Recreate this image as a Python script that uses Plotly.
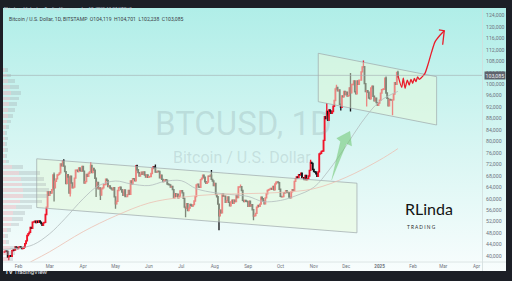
import base64
import pandas as pd
import plotly.graph_objects as go

W, H = 512, 281

# ---------------- BTCUSD daily candles (BITSTAMP) ----------------
first_date = "2024-01-19"
first_open = 41280
close_2024_01 = [41620, 41670, 41580, 39530, 39860, 40080, 39930, 41820, 42120, 42030, 43300, 42940, 42580]
close_2024_02 = [43080, 43190, 42990, 42580, 42660, 43090, 44340, 45290, 47150, 47770, 48290, 49960, 49700, 51810,
                 51940, 52130, 51660, 52130, 51780, 52270, 51840, 51300, 50730, 51570, 51720, 54480, 57050, 62470, 61170]
close_2024_03 = [62430, 61990, 63130, 68300, 63790, 66110, 66940, 68300, 68500, 69020, 72120, 71480, 73080, 71400,
                 69460, 65310, 68390, 67610, 61950, 67870, 65490, 63780, 64060, 67220, 69940, 69960, 69460, 70760,
                 69910, 69670, 71300]
close_2024_04 = [69650, 65470, 65970, 68510, 67840, 68900, 69360, 71630, 69150, 70620, 70010, 67160, 63920, 65700,
                 63430, 63810, 61280, 63470, 63820, 64940, 64950, 66840, 66410, 64280, 64500, 63770, 63460, 63120,
                 63840, 60640]
close_2024_05 = [58250, 59120, 62890, 63890, 64030, 63160, 62330, 61190, 63070, 60790, 60790, 61450, 62900, 61550,
                 66250, 65230, 67040, 66930, 66270, 71450, 70140, 69120, 67930, 68530, 69290, 68510, 69390, 68300,
                 67580, 68360, 67510]
close_2024_06 = [67740, 67760, 68800, 70570, 71110, 70790, 69340, 69310, 69640, 69510, 67310, 68240, 66760, 66010,
                 66190, 66640, 66490, 65160, 64960, 64830, 64100, 64270, 63190, 60280, 61810, 60860, 61610, 60320,
                 60900, 62690]
close_2024_07 = [62850, 62030, 60150, 57050, 56660, 58250, 55870, 56710, 57990, 57700, 57420, 57940, 59210, 60790,
                 64840, 65100, 64110, 63970, 66700, 67150, 68190, 67560, 65930, 65370, 65790, 67910, 67890, 68250,
                 66790, 66190, 64620]
close_2024_08 = [65360, 61480, 60700, 58120, 54030, 56030, 55120, 61710, 60880, 60940, 58710, 59350, 60610, 58740,
                 57560, 58880, 59490, 58440, 59490, 59010, 61160, 60380, 64090, 64160, 64220, 62880, 59420, 59030,
                 59370, 59120, 58970]
close_2024_09 = [57320, 59130, 57480, 57970, 56160, 53950, 54160, 54870, 57040, 57640, 57340, 58130, 60540, 60000,
                 59180, 58200, 60310, 61760, 62940, 63190, 63350, 63580, 63330, 64300, 63140, 65180, 65790, 65880,
                 65600, 63330]
close_2024_10 = [60810, 60650, 60750, 62090, 62070, 62820, 62240, 62130, 60590, 60280, 62450, 63190, 62850, 66050,
                 67040, 67610, 67400, 68390, 68360, 68960, 67370, 67380, 66680, 68160, 66640, 67010, 67940, 69910,
                 72720, 72340, 70220]
close_2024_11 = [69480, 69330, 68740, 67800, 69360, 75640, 75900, 76540, 76670, 80370, 88700, 87960, 90520, 87360,
                 91060, 90580, 89830, 90490, 92310, 94310, 98320, 98910, 97700, 98010, 93010, 91950, 95900, 95640,
                 97450, 96420]
close_2024_12 = [97200, 95840, 96000, 98740, 96970, 99900, 99920, 101170, 97380, 96620, 101130, 100000, 101420,
                 101420, 104300, 106030, 106140, 100200, 97460, 97780, 97220, 95190, 94880, 98690, 99320, 95790,
                 94170, 95160, 93570, 92640, 93390]
close_2025_01 = [94400, 96890, 98110, 98240, 98330, 102080, 96930, 95040, 92480, 94700, 94550, 94500, 94510, 96530,
                 100500, 99960, 104119, 103085]

# notable wick extremes
wick_high = {"2024-03-05": 69200, "2024-03-14": 73800, "2024-04-08": 72700, "2024-05-21": 71900,
             "2024-06-07": 71950, "2024-07-29": 70000, "2024-08-25": 65000, "2024-10-29": 73600,
             "2024-11-13": 93400, "2024-11-22": 99800, "2024-12-05": 103900, "2024-12-17": 108300,
             "2025-01-07": 102700, "2025-01-18": 104701}
wick_low = {"2024-01-23": 38500, "2024-03-05": 59000, "2024-03-20": 60800, "2024-04-13": 60600,
            "2024-04-17": 59600, "2024-05-01": 56500, "2024-07-05": 53500, "2024-08-05": 49000,
            "2024-09-06": 52500, "2024-11-26": 90800, "2024-12-05": 90500, "2024-12-20": 92200,
            "2025-01-13": 89200, "2025-01-18": 102238}

closes = (close_2024_01 + close_2024_02 + close_2024_03 + close_2024_04 + close_2024_05 + close_2024_06
          + close_2024_07 + close_2024_08 + close_2024_09 + close_2024_10 + close_2024_11 + close_2024_12
          + close_2025_01)
dates = pd.date_range(first_date, periods=len(closes), freq="D")
opens = [first_open] + closes[:-1]
keys = [d.strftime("%Y-%m-%d") for d in dates]
highs = [max(o, c, wick_high.get(k, 0)) for o, c, k in zip(opens, closes, keys)]
lows = [min(o, c, wick_low.get(k, 10 ** 9)) for o, c, k in zip(opens, closes, keys)]

# ---------------- moving averages ----------------
ma_fast_dates = ["2024-01-17", "2024-02-01", "2024-02-15", "2024-03-01", "2024-03-15", "2024-04-01",
                 "2024-04-15", "2024-05-01", "2024-05-15", "2024-06-01", "2024-06-15", "2024-07-01",
                 "2024-07-15", "2024-08-01", "2024-08-15", "2024-09-01", "2024-09-15", "2024-10-01",
                 "2024-10-15", "2024-11-01", "2024-11-15", "2024-12-01", "2024-12-15", "2025-01-01",
                 "2025-01-18"]
ma_fast_vals = [42300, 42700, 44000, 47800, 53000, 60000, 64500, 66200, 65200, 64600, 66000, 66300,
                63500, 62100, 61500, 60800, 59000, 59400, 61000, 64000, 70000, 78500, 86500, 94000, 97500]
ma_slow_dates = ["2024-02-12", "2024-03-01", "2024-04-01", "2024-05-01", "2024-06-01", "2024-07-01",
                 "2024-08-01", "2024-09-01", "2024-10-01", "2024-11-01", "2024-12-01", "2025-01-01",
                 "2025-01-18"]
ma_slow_vals = [37900, 41500, 48500, 54000, 58500, 60500, 61500, 61800, 62200, 63500, 67500, 73500, 77500]

# ---------------- volume profile (visible range) ----------------
vp_prices = list(range(39000, 107000, 2000))
vp_up = [5, 6, 7, 3, 2, 4, 8, 9, 10, 13, 17, 20, 20, 19, 18, 16, 9, 3, 2, 2, 2, 2, 2, 3, 4, 5, 5, 6, 7, 8, 7, 5, 4, 2]
vp_down = [5, 6, 7, 3, 3, 4, 8, 11, 12, 15, 21, 24, 25, 23, 22, 20, 11, 3, 2, 3, 2, 3, 2, 3, 4, 5, 7, 8, 9, 10, 9, 7, 4, 3]

# ---------------- drawings ----------------
low_channel_x = ["2024-02-17 22:00", "2024-12-11", "2024-12-11", "2024-02-17 22:00", "2024-02-17 22:00"]
low_channel_y = [73950, 65430, 48100, 56940, 73950]
up_channel_x = ["2024-11-05 02:00", "2025-02-22 22:00", "2025-02-22 22:00", "2024-11-05 02:00", "2024-11-05 02:00"]
up_channel_y = [110800, 102630, 85760, 93900, 110800]

arrow_x = ["2024-11-17 12:00", "2024-11-25 17:00", "2024-11-22 05:00", "2024-12-04 12:00", "2024-12-06 02:00",
           "2024-12-01 07:00", "2024-11-17 12:00"]
arrow_y = [66550, 79990, 81110, 83560, 78420, 79300, 66550]

path_x = ["2025-01-18", "2025-01-21 12:00", "2025-01-23", "2025-01-24 14:00", "2025-01-26 17:00",
          "2025-01-28 12:00", "2025-01-30 02:00", "2025-01-31 17:00", "2025-02-02 05:00", "2025-02-03 17:00",
          "2025-02-05 07:00", "2025-02-06 19:00", "2025-02-09", "2025-02-12 02:00", "2025-02-15 05:00",
          "2025-02-18 07:00", "2025-02-21 10:00", "2025-02-26 05:00", "2025-03-02"]
path_y = [103085, 98900, 102100, 98600, 101400, 99700, 101700, 100300, 102000, 100900, 102600,
          101700, 102400, 103800, 107300, 111300, 114800, 117200, 118700]
head_x = ["2025-02-25", "2025-03-02", "2025-02-28 12:00"]
head_y = [119000, 118700, 113800]

# ---------------- axes mapping ----------------
x_range = ["2024-01-17 15:00", "2025-04-06"]
y_range = [37904, 126622]
month_ticks = ["2024-02-01", "2024-03-01", "2024-04-01", "2024-05-01", "2024-06-01", "2024-07-01",
               "2024-08-01", "2024-09-01", "2024-10-01", "2024-11-01", "2024-12-01", "2025-01-01",
               "2025-02-01", "2025-03-01", "2025-04-01"]
month_text = ["Feb", "Mar", "Apr", "May", "Jun", "Jul", "Aug", "Sep", "Oct", "Nov", "Dec", "<b>2025</b>",
              "Feb", "Mar", "Apr"]
price_ticks = list(range(40000, 124001, 4000))

X0, X1 = 3, 482        # plot area in pixels
Y0, Y1 = 8, 262


def px(x):
    return x / W


def py(y):
    return 1 - y / H


fig = go.Figure()

channel_fill = "rgba(232,250,218,0.5)"
channel_line = dict(color="#9ea7ab", width=0.7)
fig.add_trace(go.Scatter(x=low_channel_x, y=low_channel_y, mode="lines", fill="toself",
                         fillcolor=channel_fill, line=channel_line, hoverinfo="skip"))
fig.add_trace(go.Scatter(x=up_channel_x, y=up_channel_y, mode="lines", fill="toself",
                         fillcolor=channel_fill, line=channel_line, hoverinfo="skip"))

fig.add_trace(go.Scatter(x=ma_fast_dates, y=ma_fast_vals, mode="lines",
                         line=dict(color="#b3bcbe", width=0.8, shape="spline"), hoverinfo="skip"))
fig.add_trace(go.Scatter(x=ma_slow_dates, y=ma_slow_vals, mode="lines",
                         line=dict(color="#ecc0b2", width=0.8, shape="spline"), hoverinfo="skip"))

fig.add_trace(go.Candlestick(x=dates, open=opens, high=highs, low=lows, close=closes,
                             increasing=dict(line=dict(color="#f0152a", width=1.35), fillcolor="#f0152a"),
                             decreasing=dict(line=dict(color="#16161a", width=1.35), fillcolor="#16161a"),
                             whiskerwidth=0, hoverinfo="skip"))

fig.add_trace(go.Scatter(x=arrow_x, y=arrow_y, mode="lines", fill="toself",
                         fillcolor="rgba(110,196,110,0.55)", line=dict(color="rgba(110,196,110,0.3)", width=0.5),
                         hoverinfo="skip"))
fig.add_trace(go.Scatter(x=path_x, y=path_y, mode="lines",
                         line=dict(color="#ea1c2a", width=1.3, shape="spline", smoothing=0.6),
                         hoverinfo="skip"))
fig.add_trace(go.Scatter(x=head_x, y=head_y, mode="lines", line=dict(color="#ea1c2a", width=1.3),
                         hoverinfo="skip"))

# volume profile bars on an overlaying axis pinned to the left edge
vp_max = max(u + d for u, d in zip(vp_up, vp_down))
fig.add_trace(go.Bar(y=vp_prices, x=vp_up, orientation="h", xaxis="x2", yaxis="y", width=1300,
                     marker=dict(color="rgba(242,160,170,0.38)", line=dict(width=0)), hoverinfo="skip"))
fig.add_trace(go.Bar(y=vp_prices, x=vp_down, orientation="h", xaxis="x2", yaxis="y", width=1300,
                     marker=dict(color="rgba(160,164,168,0.30)", line=dict(width=0)), hoverinfo="skip"))

grad_svg = ('<svg xmlns="http://www.w3.org/2000/svg" width="10" height="100" preserveAspectRatio="none">'
            '<defs><linearGradient id="g" x1="0" y1="0" x2="0" y2="1">'
            '<stop offset="0" stop-color="#b0eee8"/><stop offset="0.55" stop-color="#d9f6f3"/>'
            '<stop offset="1" stop-color="#f8fdfd"/></linearGradient></defs>'
            '<rect width="10" height="100" fill="url(#g)"/></svg>')
grad_src = "data:image/svg+xml;base64," + base64.b64encode(grad_svg.encode()).decode()

axis_font = dict(family="Roboto, Arial", size=4.6, color="#6f737c")

fig.update_layout(
    width=W, height=H, margin=dict(l=0, r=0, t=0, b=0),
    paper_bgcolor="#1c1f26", plot_bgcolor="rgba(0,0,0,0)",
    showlegend=False, barmode="stack", bargap=0,
    images=[dict(source=grad_src, xref="paper", yref="paper", x=px(3), y=py(8), sizex=px(503),
                 sizey=263 / H, xanchor="left", yanchor="top", sizing="stretch", layer="below")],
    xaxis=dict(type="date", range=x_range, domain=[px(X0), px(X1)], anchor="y",
               tickvals=month_ticks, ticktext=month_text, tickfont=axis_font,
               showgrid=False, zeroline=False, showline=False, ticks="", ticklabelstandoff=0,
               rangeslider=dict(visible=False), fixedrange=True),
    xaxis2=dict(overlaying="x", range=[0, vp_max * (X1 - X0) / 46], domain=[px(X0), px(X1)], anchor="y",
                visible=False, fixedrange=True),
    yaxis=dict(range=y_range, domain=[py(Y1), py(Y0)], side="right", anchor="x",
               tickvals=price_ticks, ticktext=[f"{v:,}" for v in price_ticks],
               tickfont=dict(family="Roboto, Arial", size=5.2, color="#6f737c"),
               showgrid=False, zeroline=False, showline=False, ticks="", ticklabelstandoff=3,
               fixedrange=True),
)

last_close = closes[-1]
fig.add_shape(type="line", xref="x domain", x0=0, x1=1, yref="y", y0=last_close, y1=last_close,
              line=dict(color="#a3acb0", width=0.6))
fig.add_shape(type="line", xref="paper", x0=px(482.5), x1=px(482.5), yref="paper", y0=py(8), y1=py(271),
              line=dict(color="#d2dcdc", width=0.8))
fig.add_shape(type="line", xref="paper", x0=px(3), x1=px(506), yref="paper", y0=py(262), y1=py(262),
              line=dict(color="#d8e0e0", width=0.8))

ann = [
    dict(text="RLinda published on TradingView.com, Jan 18, 2025 13:37 UTC+3", x=px(2), y=py(4),
         xanchor="left", font=dict(family="Roboto, Arial", size=4.4, color="#d6d9e0")),
    dict(text="Bitcoin / U.S. Dollar, 1D, BITSTAMP  O104,119  H104,701  L102,238  C103,085", x=px(7), y=py(14),
         xanchor="left", font=dict(family="Roboto, Arial", size=5.1, color="#3a3d45")),
    dict(text="BTCUSD, 1D", x=px(243), y=py(123), xanchor="center",
         font=dict(family="Roboto, Arial", size=33, color="rgba(120,140,145,0.22)")),
    dict(text="Bitcoin / U.S. Dollar", x=px(242), y=py(157), xanchor="center",
         font=dict(family="Roboto, Arial", size=16, color="rgba(120,140,145,0.22)")),
    dict(text="RLinda", x=px(429), y=py(220), xanchor="center",
         font=dict(family="Lato, Arial", size=16, color="#141414")),
    dict(text="T R A D I N G", x=px(421), y=py(232), xanchor="center",
         font=dict(family="Lato, Arial", size=4.8, color="#2a2a2a")),
    dict(text="<b>TV</b> TradingView", x=px(3), y=py(277), xanchor="left",
         font=dict(family="Roboto, Arial", size=6, color="#e8eaef")),
    dict(text=f"{last_close:,}", x=px(494.5), y=last_close, yref="y", xanchor="center", bgcolor="#5e626c",
         font=dict(family="Roboto, Arial", size=5.2, color="#f2f3f5"), borderpad=0.6),
]
for a in ann:
    a.setdefault("xref", "paper")
    a.setdefault("yref", "paper")
    a["showarrow"] = False
    fig.add_annotation(**a)

fig.write_html("out.html")
